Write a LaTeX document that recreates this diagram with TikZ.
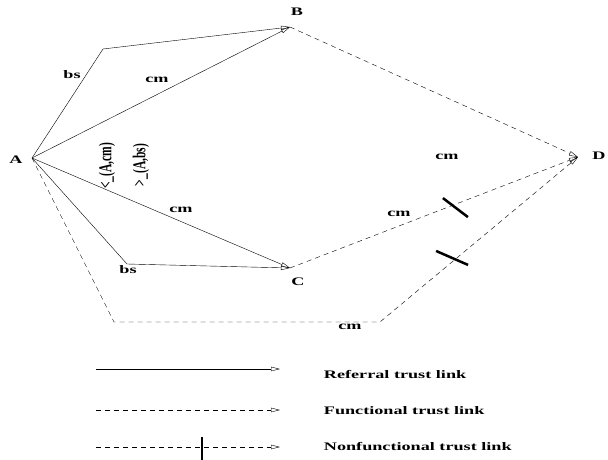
\documentclass[tikz,border=0pt]{standalone}
\usepackage{fontspec}
\setmainfont{Liberation Serif}
\usetikzlibrary{arrows.meta,calc,positioning}
\tikzset{
  every node/.style={
    font=\bfseries\fontsize{11.5}{13}\selectfont,
    xscale=1.58,
    inner sep=1pt
  },
  reflink/.style={
    thin,
    -{Triangle[open,length=9pt,width=4.5pt]}
  },
  funlink/.style={
    reflink,
    dash pattern=on 5pt off 4pt
  },
  nfbar/.style={
    line width=2.5pt
  },
  cond/.style={
    rotate=90
  },
}

\begin{document}
\begin{tikzpicture}[x=1pt,y=-1pt]
\useasboundingbox (0,0) rectangle (608,460);
% agents
\coordinate (a) at (32,158);
\coordinate (b) at (290,27);
\coordinate (c) at (290,268);
\coordinate (d) at (578,157);
\node (na) at (16,160) {A};
\node (nb) at (297,12) {B};
\node (nc) at (298,282) {C};
\node (nd) at (599,156) {D};
% bends
\coordinate (ab) at (103,49);
\coordinate (ac) at (127,264);
\coordinate (ad1) at (114,322);
\coordinate (ad2) at (380,322);
% referral links
\draw[reflink] (a) -- (ab) -- (b);
\draw[reflink] (a) -- (b);
\draw[reflink] (a) -- (c);
\draw[reflink] (a) -- (ac) -- (c);
% functional links
\draw[funlink] (b) -- (d);
\draw[funlink] (c) -- (d);
\draw[funlink] (a) -- (ad1) -- (ad2) -- (d);
% nonfunctional marks
\path (c) -- (d) coordinate[pos=0.576] (t1);
\path (ad2) -- (d) coordinate[pos=0.364] (t2);
\draw[nfbar] ($(t1)+(-13,-6)$) -- ($(t1)+(12,13)$);
\draw[nfbar] ($(t2)+(-16,-11)$) -- ($(t2)+(16,3)$);
% edge labels
\node (bs1) at (72,75) {bs};
\node (cm1) at (157,80) {cm};
\node (cm2) at (181,210) {cm};
\node (bs2) at (128,270) {bs};
\node (cm3) at (447,157) {cm};
\node (cm4) at (399,214) {cm};
\node (cm5) at (350,327) {cm};
\node[cond] (ordcm) at (107,166) {<\_(A,cm)};
\node[cond] (ordbs) at (141,165) {>\_(A,bs)};
% key
\foreach \y/\ty/\s/\t [count=\i] in {369/375/reflink/Referral trust link,
                                     410/411/funlink/Functional trust link,
                                     447/447/funlink/Nonfunctional trust link}{
  \coordinate (l\i) at (96,\y);
  \coordinate (r\i) at (280,\y);
  \draw[\s] (l\i) -- (r\i);
  \node[anchor=west] (key\i) at (322,\ty) {\t};
}
\path (l3) -- (r3) coordinate[pos=0.576] (t3);
\draw[nfbar] ($(t3)+(0,-10)$) -- ($(t3)+(0,13)$);
\end{tikzpicture}
\end{document}
